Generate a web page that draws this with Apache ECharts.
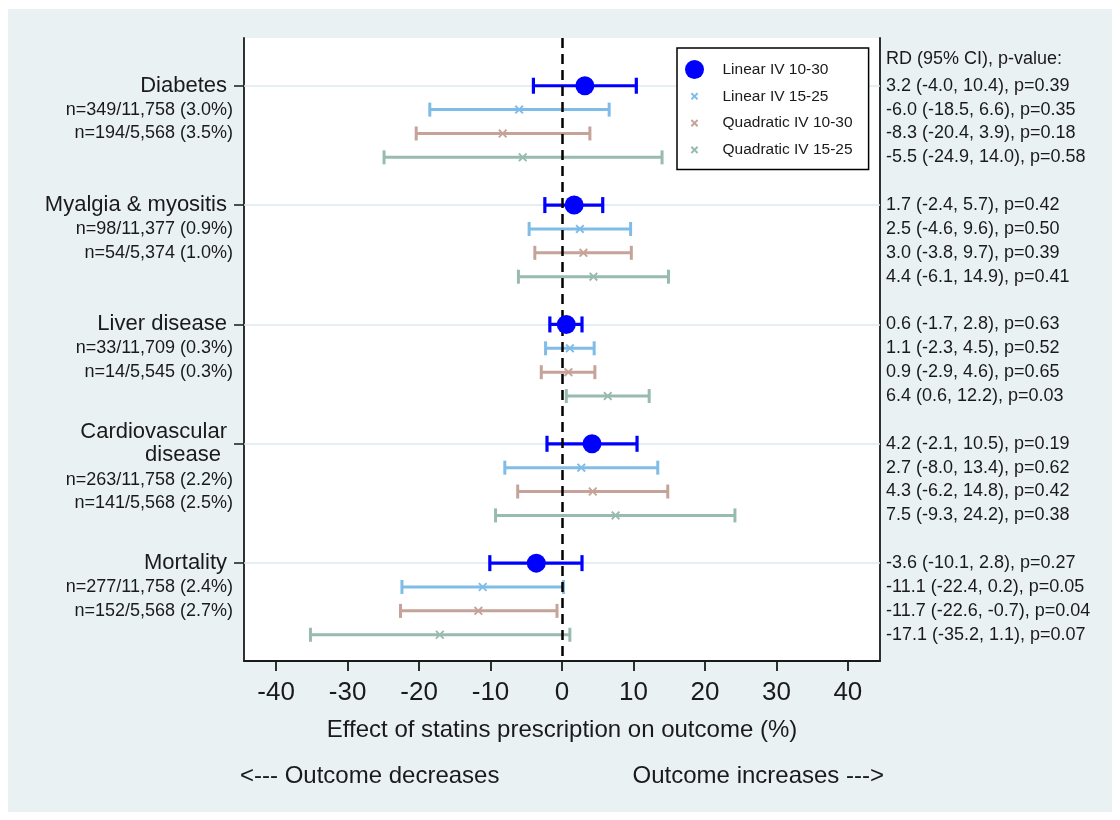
<!DOCTYPE html>
<html>
<head>
<meta charset="utf-8">
<script src="https://cdn.jsdelivr.net/npm/echarts@6/dist/echarts.min.js"></script>
<style>
  html, body { margin: 0; padding: 0; background: #fff; }
  #main { width: 1120px; height: 820px; }
</style>
</head>
<body>
<div id="main"></div>
<script>
// outcomes (left labels)
var groups = ['Diabetes', 'Myalgia & myositis', 'Liver disease', 'Cardiovascular\ndisease ', 'Mortality'];
var nLine1 = ['n=349/11,758 (3.0%)', 'n=98/11,377 (0.9%)', 'n=33/11,709 (0.3%)', 'n=263/11,758 (2.2%)', 'n=277/11,758 (2.4%)'];
var nLine2 = ['n=194/5,568 (3.5%)', 'n=54/5,374 (1.0%)', 'n=14/5,545 (0.3%)', 'n=141/5,568 (2.5%)', 'n=152/5,568 (2.7%)'];

// models: one row per outcome -> [estimate, lower, upper, p]
var modelNames = ['Linear IV 10-30', 'Linear IV 15-25', 'Quadratic IV 10-30', 'Quadratic IV 15-25'];
var linear1030 = [[3.2, -4.0, 10.4, 0.39], [1.7, -2.4, 5.7, 0.42], [0.6, -1.7, 2.8, 0.63], [4.2, -2.1, 10.5, 0.19], [-3.6, -10.1, 2.8, 0.27]];
var linear1525 = [[-6.0, -18.5, 6.6, 0.35], [2.5, -4.6, 9.6, 0.50], [1.1, -2.3, 4.5, 0.52], [2.7, -8.0, 13.4, 0.62], [-11.1, -22.4, 0.2, 0.05]];
var quad1030 = [[-8.3, -20.4, 3.9, 0.18], [3.0, -3.8, 9.7, 0.39], [0.9, -2.9, 4.6, 0.65], [4.3, -6.2, 14.8, 0.42], [-11.7, -22.6, -0.7, 0.04]];
var quad1525 = [[-5.5, -24.9, 14.0, 0.58], [4.4, -6.1, 14.9, 0.41], [6.4, 0.6, 12.2, 0.03], [7.5, -9.3, 24.2, 0.38], [-17.1, -35.2, 1.1, 0.07]];
var models = [linear1030, linear1525, quad1030, quad1525];

var xTicks = [-40, -30, -20, -10, 0, 10, 20, 30, 40];
var rdHeader = 'RD (95% CI), p-value:';

var colors = ['#0000ff', '#80bce8', '#c6a398', '#98bbaf'];
var xPath = 'path://M0,1.5L1.5,0L5,3.5L8.5,0L10,1.5L6.5,5L10,8.5L8.5,10L5,6.5L1.5,10L0,8.5L3.5,5Z';
var xIcon = 'path://M0,0L0.01,0L0,0.01Z M20,20L19.99,20L20,19.99Z M6,7.5L7.5,6L10,8.5L12.5,6L14,7.5L11.5,10L14,12.5L12.5,14L10,11.5L7.5,14L6,12.5L8.5,10Z';
var font = 'Liberation Sans, Arial, sans-serif';
var ink = '#1a1a1a';

// row position: 5 slots per outcome, model index inside
function rowY(g, m) { return g * 5 + m; }

// left labels
var leftMap = {};
var leftVals = [];
groups.forEach(function (name, g) {
	var y0 = rowY(g, 0);
	var parts = name.split('\n');
	leftMap[y0] = parts.map(function (p) { return '{g|' + p + '}'; }).join('\n');
	var off = parts.length > 1 ? 0.5 : 0;
	leftMap[y0 + 1 + off] = '{n|' + nLine1[g] + '}';
	leftMap[y0 + 2 + off] = '{n|' + nLine2[g] + '}';
	leftVals.push(y0, y0 + 1 + off, y0 + 2 + off);
});
var groupTicks = groups.map(function (n, g) { return rowY(g, 0); });

// right labels
var rightMap = {};
var rightVals = [-1.1];
rightMap[-1.1] = rdHeader;
models.forEach(function (rows, m) {
	rows.forEach(function (r, g) {
		var y = rowY(g, m);
		rightMap[y] = r[0].toFixed(1) + ' (' + r[1].toFixed(1) + ', ' + r[2].toFixed(1) + '), p=' + r[3].toFixed(2);
		rightVals.push(y);
	});
});
function keyOf(v) { return Math.round(v * 100) / 100; }

function barRenderer(capHalf, width) {
	return function (params, api) {
		var y = api.value(2);
		var a = api.coord([api.value(0), y]);
		var b = api.coord([api.value(1), y]);
		var st = { stroke: api.visual('color'), lineWidth: width };
		return {
			type: 'group',
			children: [
				{ type: 'line', shape: { x1: a[0], y1: a[1], x2: b[0], y2: b[1] }, style: st },
				{ type: 'line', shape: { x1: a[0], y1: a[1] - capHalf, x2: a[0], y2: a[1] + capHalf }, style: st },
				{ type: 'line', shape: { x1: b[0], y1: b[1] - capHalf, x2: b[0], y2: b[1] + capHalf }, style: st }
			]
		};
	};
}

var series = [];
// gridlines at each outcome
series.push({
	type: 'line', name: 'grid', data: [], z: 1, silent: true,
	markLine: {
		z: 1, silent: true, symbol: ['none', 'none'], label: { show: false },
		lineStyle: { color: '#dde8eb', width: 1.5, type: 'solid' },
		data: groupTicks.map(function (v) { return { yAxis: v }; })
	}
});
models.forEach(function (rows, m) {
	series.push({
		type: 'custom', name: modelNames[m] + ' CI', z: 2,
		itemStyle: { color: colors[m] },
		renderItem: barRenderer(m === 0 ? 8 : 7, m === 0 ? 3.2 : 3),
		encode: { x: [0, 1], y: 2 },
		data: rows.map(function (r, g) { return [r[1], r[2], rowY(g, m)]; })
	});
});
// dashed zero line
series.push({
	type: 'line', name: 'zero', data: [], z: 3, silent: true,
	markLine: {
		z: 3, silent: true, symbol: ['none', 'none'], label: { show: false },
		lineStyle: { color: '#000', width: 2.5, type: [10, 6] },
		data: [{ xAxis: 0 }]
	}
});
models.forEach(function (rows, m) {
	series.push({
		type: 'scatter', name: modelNames[m], z: 4,
		symbol: m === 0 ? 'circle' : xPath,
		symbolSize: m === 0 ? 19 : 9,
		itemStyle: { color: colors[m], opacity: 1 },
		data: rows.map(function (r, g) { return [r[0], rowY(g, m)]; })
	});
});

var myChart = echarts.init(document.getElementById('main'));
var option = {
	animation: false,
	backgroundColor: '#ffffff',
	textStyle: { fontFamily: font, color: ink },
	graphic: [
		{ type: 'rect', z: -100, silent: true, shape: { x: 8, y: 9, width: 1104, height: 803 }, style: { fill: '#eaf1f3' } },
		{ type: 'text', left: 240, top: 764, style: { text: '<--- Outcome decreases', font: '24px ' + font, fill: ink } },
		{ type: 'text', right: 236, top: 764, style: { text: 'Outcome increases --->', font: '24px ' + font, fill: ink, align: 'right' } }
	],
	legend: {
		left: 677, top: 48, orient: 'vertical',
		backgroundColor: '#fff', borderColor: '#000', borderWidth: 1.5, borderRadius: 0,
		padding: [12, 16, 10, 8],
		itemWidth: 28, itemHeight: 19, itemGap: 7.8,
		textStyle: { fontSize: 15.5, color: ink, padding: [0, 0, 0, 9] },
		data: modelNames.map(function (n, m) { return { name: n, icon: m === 0 ? 'circle' : xIcon }; })
	},
	grid: { left: 244, right: 240, top: 38, bottom: 159, show: true, backgroundColor: '#fff', borderWidth: 0 },
	xAxis: {
		type: 'value', min: -44.5, max: 44.5,
		axisLine: { show: true, onZero: false, lineStyle: { color: ink, width: 1.8 } },
		axisTick: { show: true, customValues: xTicks, length: 10, lineStyle: { color: ink, width: 1.8 } },
		axisLabel: { customValues: xTicks, fontSize: 26, margin: 19, color: ink },
		splitLine: { show: false },
		name: 'Effect of statins prescription on outcome (%)',
		nameLocation: 'middle', nameGap: 57,
		nameTextStyle: { fontSize: 24, color: ink }
	},
	yAxis: [
		{
			type: 'value', min: -2, max: 24.1, inverse: true, position: 'left',
			axisLine: { show: true, onZero: false, lineStyle: { color: ink, width: 1.8 } },
			axisTick: { show: true, customValues: groupTicks, length: 10, lineStyle: { color: ink, width: 1.5 } },
			axisLabel: {
				customValues: leftVals, margin: 11, color: ink,
				formatter: function (v) { return leftMap[keyOf(v)] || ''; },
				rich: {
					g: { fontSize: 22, lineHeight: 23, padding: [0, 6, 0, 0], color: ink, fontFamily: font, align: 'right' },
					n: { fontSize: 18, color: ink, fontFamily: font }
				}
			},
			splitLine: { show: false }
		},
		{
			type: 'value', min: -2, max: 24.1, inverse: true, position: 'right',
			axisLine: { show: true, onZero: false, lineStyle: { color: ink, width: 1.8 } },
			axisTick: { show: false },
			axisLabel: {
				customValues: rightVals, margin: 6, fontSize: 18, color: ink,
				formatter: function (v) { return rightMap[keyOf(v)] || ''; }
			},
			splitLine: { show: false }
		}
	],
	series: series
};
myChart.setOption(option);
</script>
</body>
</html>
